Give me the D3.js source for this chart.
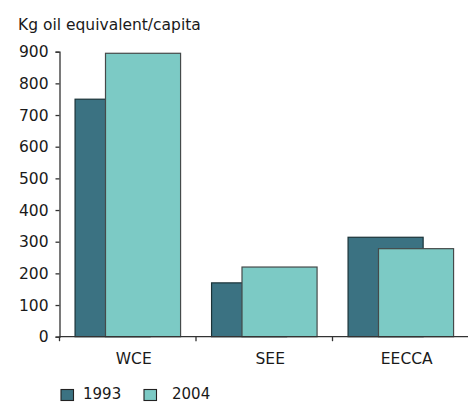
<!DOCTYPE html>
<html>
<head>
<meta charset="utf-8">
<script src="https://cdn.jsdelivr.net/npm/d3@7"></script>
<style>
  html, body { margin: 0; padding: 0; background: #fff; }
  svg { display: block; }
  text { font-family: "DejaVu Sans", Verdana, sans-serif; fill: #1a1a1a; }
</style>
</head>
<body>
<svg id="chart" width="468" height="403"></svg>
<script>
// Energy consumption per capita by region
const categories = ["WCE", "SEE", "EECCA"];
const seriesNames = ["1993", "2004"];
const values1993 = [750, 170, 314];
const values2004 = [895, 220, 278];
const yTicks = [0, 100, 200, 300, 400, 500, 600, 700, 800, 900];
const yTitle = "Kg oil equivalent/capita";

const fills = { "1993": "#3b7282", "2004": "#7ccac5" };
const strokes = { "1993": "#1b3338", "2004": "#454a4a" };

const svg = d3.select("#chart");
const fontSize = 15.5;

const x = d3.scaleBand().domain(categories).range([59.5, 469]).padding(0);
const y = d3.scaleLinear().domain([0, 900]).range([336.7, 51.7]);

const bw = x.bandwidth();
const barW = bw * 0.55;
const pad = bw * 0.114;
const shift = bw * 0.223;

// y-axis title
svg.append("text")
  .attr("x", 18).attr("y", 29.5)
  .attr("font-size", fontSize)
  .text(yTitle);

// bars: 1993 drawn first, 2004 overlaps it to the right
const series = [
  { name: "1993", vals: values1993, off: pad },
  { name: "2004", vals: values2004, off: pad + shift }
];
series.forEach(s => {
  svg.append("g").selectAll("rect")
    .data(categories.map((c, i) => ({ c, v: s.vals[i] })))
    .join("rect")
    .attr("x", d => x(d.c) + s.off)
    .attr("y", d => y(d.v))
    .attr("width", barW)
    .attr("height", d => y(0) - y(d.v))
    .attr("fill", fills[s.name])
    .attr("stroke", strokes[s.name])
    .attr("stroke-width", 1.2);
});

// y axis
const yAxis = svg.append("g")
  .attr("transform", "translate(59.5,0)")
  .call(d3.axisLeft(y).tickValues(yTicks).tickSize(4).tickPadding(7));
yAxis.select(".domain").attr("stroke", "#333").attr("stroke-width", 1.3);
yAxis.selectAll(".tick line").attr("stroke", "#333").attr("stroke-width", 1.3);
yAxis.selectAll(".tick text")
  .attr("font-size", fontSize)
  .attr("font-family", "DejaVu Sans, Verdana, sans-serif")
  .attr("fill", "#1a1a1a");

// x axis: ticks sit between categories
const xg = svg.append("g");
xg.append("line")
  .attr("x1", 59.5).attr("x2", 468)
  .attr("y1", y(0)).attr("y2", y(0))
  .attr("stroke", "#333").attr("stroke-width", 1.3);
xg.selectAll("line.tk")
  .data(categories)
  .join("line")
  .attr("class", "tk")
  .attr("x1", d => x(d)).attr("x2", d => x(d))
  .attr("y1", y(0)).attr("y2", y(0) + 4.5)
  .attr("stroke", "#333").attr("stroke-width", 1.3);
xg.selectAll("text")
  .data(categories)
  .join("text")
  .attr("x", d => x(d) + bw / 2 + 6)
  .attr("y", 363.5)
  .attr("text-anchor", "middle")
  .attr("font-size", fontSize)
  .text(d => d);

// legend
const legend = svg.append("g");
const legX = [61, 144];
seriesNames.forEach((n, i) => {
  legend.append("rect")
    .attr("x", legX[i]).attr("y", 389.5)
    .attr("width", 12.5).attr("height", 11)
    .attr("fill", fills[n])
    .attr("stroke", "#222").attr("stroke-width", 1.1);
  legend.append("text")
    .attr("x", legX[i] + (i === 0 ? 22 : 28)).attr("y", 399)
    .attr("font-size", 15)
    .text(n);
});
</script>
</body>
</html>
